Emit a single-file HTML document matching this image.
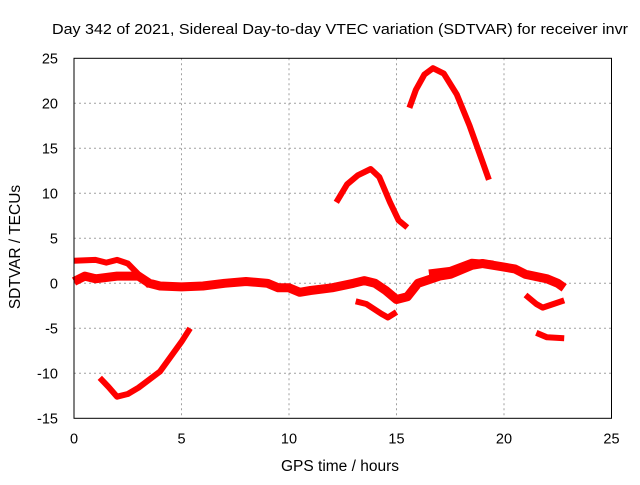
<!DOCTYPE html>
<html><head><meta charset="utf-8"><style>
body{margin:0;background:#fff}
svg text{font-family:"Liberation Sans",sans-serif;fill:#000}
</style></head><body>
<svg id="chart" width="640" height="480">
<text x="340" y="34" font-size="15" text-anchor="middle" textLength="576" lengthAdjust="spacingAndGlyphs">Day 342 of 2021, Sidereal Day-to-day VTEC variation (SDTVAR) for receiver invr</text>
<g id="grid"></g><g id="series"></g><g id="axes"></g>
<text x="340" y="471" font-size="15.5" text-anchor="middle">GPS time / hours</text>
<text transform="translate(20,247) rotate(-90)" font-size="15.5" text-anchor="middle">SDTVAR / TECUs</text>
</svg>
<script>
const xTicks=[0,5,10,15,20,25];
const yTicks=[-15,-10,-5,0,5,10,15,20,25];
const bandMainX=[0,0.5,1,2,3,3.5,4,5,6,7,8,9,9.5,10,10.5,11,12,13,13.5,14,14.5,15,15.5,16,17,17.5,18,18.5,19,19.5,20,20.5,21,22,22.5,22.8];
const bandMainY=[0.2,0.8,0.5,0.8,0.8,0,-0.3,-0.4,-0.3,0,0.2,0,-0.5,-0.5,-1,-0.8,-0.5,0,0.3,0,-0.8,-1.8,-1.5,0,0.8,1,1.5,2,2.2,2,1.8,1.6,1,0.5,0,-0.5];
const bandUpperX=[0,1,1.5,2,2.5,3,3.5];
const bandUpperY=[2.5,2.6,2.3,2.6,2.2,1.0,-0.3];
const band2X=[16.5,17.5,18.5,19.5];
const band2Y=[1.2,1.5,2.4,2.2];
const morningX=[1.2,1.6,2,2.5,3,4,5,5.4];
const morningY=[-10.5,-11.5,-12.6,-12.3,-11.6,-9.8,-6.5,-5];
const arc1X=[12.2,12.7,13.2,13.8,14.2,14.7,15.1,15.5];
const arc1Y=[9,11,12,12.7,11.8,9,7,6.2];
const arc2X=[15.6,15.9,16.3,16.7,17.2,17.8,18.4,19,19.3];
const arc2Y=[19.5,21.5,23.2,23.9,23.3,21,17.5,13.5,11.5];
const dipX=[13.1,13.6,14.3,14.6,15];
const dipY=[-2,-2.3,-3.4,-3.8,-3.2];
const late1X=[21,21.5,21.8,22.3,22.8];
const late1Y=[-1.3,-2.3,-2.7,-2.3,-1.9];
const late2X=[21.5,22,22.8];
const late2Y=[-5.5,-6,-6.1];
const X0=74,X1=611.5,Y0=418.3,Y1=58.3;
const sx=v=>X0+(v-0)/(25-0)*(X1-X0);
const sy=v=>Y0-(v+15)/(40)*(Y0-Y1);
const NS="http://www.w3.org/2000/svg";
function mk(t,a,p){const e=document.createElementNS(NS,t);for(const k in a)e.setAttribute(k,a[k]);p.appendChild(e);return e;}
const grid=document.getElementById('grid'),axes=document.getElementById('axes'),ser=document.getElementById('series');
xTicks.forEach(t=>{
 if(t>0&&t<25){const l=mk('line',{x1:sx(t),x2:sx(t),y1:Y1,y2:Y0,stroke:'#a0a0a0','stroke-dasharray':'2,3'},grid);
 
 }
 const tx=mk('text',{x:sx(t),y:Y0+25,'font-size':14.5,'text-anchor':'middle'},axes);tx.textContent=t;
 
 
});
yTicks.forEach(t=>{
 if(t>-15&&t<25){const l=mk('line',{x1:X0,x2:X1,y1:sy(t),y2:sy(t),stroke:'#a0a0a0','stroke-dasharray':'2,3'},grid);
 
 }
 const tx=mk('text',{x:X0-16,y:sy(t)+5,'font-size':14.5,'text-anchor':'end'},axes);tx.textContent=t;
 
 
});
const fr=mk('rect',{x:X0,y:Y1,width:X1-X0,height:Y0-Y1,fill:'none',stroke:'#000'},axes);


function line(xs,ys,w,name){
 const d=xs.map((x,i)=>(i?'L':'M')+sx(x).toFixed(1)+','+sy(ys[i]).toFixed(1)).join('');
 const p=mk('path',{d:d,fill:'none',stroke:'#ff0000','stroke-width':w,'stroke-linejoin':'round','stroke-linecap':'butt'},ser);
 
 
}
line(bandMainX,bandMainY,9,'series-main-band');
line(bandUpperX,bandUpperY,6,'series-upper-band');
line(band2X,band2Y,6,'series-second-band');
line(morningX,morningY,6,'series-morning-arc');
line(arc1X,arc1Y,6,'series-arc-1');
line(arc2X,arc2Y,6,'series-arc-2');
line(dipX,dipY,6,'series-dip');
line(late1X,late1Y,6,'series-late-1');
line(late2X,late2Y,6,'series-late-2');
</script>
</body></html>
